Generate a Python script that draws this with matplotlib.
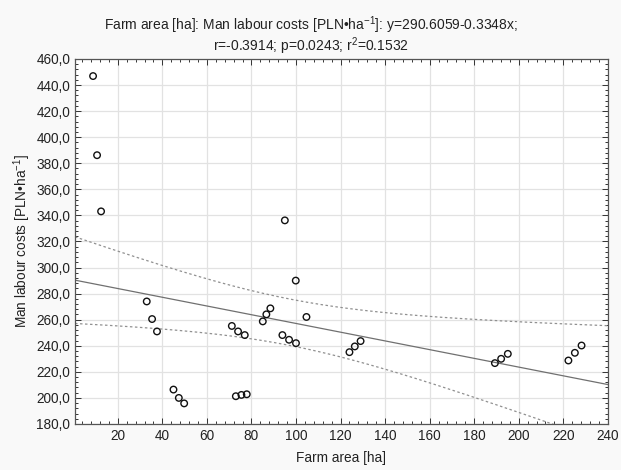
import numpy as np
import matplotlib
matplotlib.use("Agg")
import matplotlib.pyplot as plt
from matplotlib.ticker import MultipleLocator, FuncFormatter

plt.rcParams['font.family'] = ['Liberation Sans', 'DejaVu Sans']
plt.rcParams['mathtext.fontset'] = 'custom'
plt.rcParams['mathtext.rm'] = 'Liberation Sans'
plt.rcParams['mathtext.it'] = 'Liberation Sans'

# Farm area [ha]
farm_area = [8.9, 10.7, 12.5, 33.0, 35.4, 37.6, 45.0, 47.4, 49.8,
             71.2, 74.0, 77.0, 73.0, 75.5, 77.9, 85.1, 86.7, 88.5,
             93.9, 96.9, 100.0, 99.9, 95.0, 104.7, 124.0, 126.4, 129.0,
             189.3, 192.1, 195.1, 222.3, 225.2, 228.2]
# Man labour costs [PLN/ha]
labour_costs = [446.9, 386.2, 343.1, 274.0, 260.5, 251.0, 206.4, 200.0, 195.8,
                255.2, 251.0, 248.2, 201.3, 202.3, 202.8, 258.7, 264.1, 268.7,
                248.2, 244.6, 242.0, 290.0, 336.2, 262.1, 235.1, 239.5, 243.6,
                226.7, 230.0, 233.8, 228.7, 234.6, 240.2]

intercept = 290.6059
slope = -0.3348
r_value = -0.3914
p_value = 0.0243
r_squared = 0.1532

x = np.asarray(farm_area)
y = np.asarray(labour_costs)

fig = plt.figure(figsize=(6.21, 4.70), dpi=100, facecolor='#f9f9f9')
ax = fig.add_axes([0.1208, 0.0979, 0.858, 0.7766])
ax.set_facecolor('white')

# regression line with 95% confidence band
xx = np.linspace(0.8, 240, 300)
yy = intercept + slope * xx
n = len(x)
resid = y - (intercept + slope * x)
s = np.sqrt(np.sum(resid ** 2) / (n - 2))
sxx = np.sum((x - x.mean()) ** 2)
t_crit = 2.04
half = t_crit * s * np.sqrt(1.0 / n + (xx - x.mean()) ** 2 / sxx)

ax.plot(xx, yy, color='#707070', lw=0.9, zorder=2)
ax.plot(xx, yy + half, color='#909090', lw=0.9, ls=(0, (2, 2)), zorder=2)
ax.plot(xx, yy - half, color='#909090', lw=0.9, ls=(0, (2, 2)), zorder=2)

ax.scatter(x, y, s=22, facecolors='none', edgecolors='#111111', linewidths=1.0, zorder=3)

ax.set_xlim(0.8, 240)
ax.set_ylim(180, 460)
ax.xaxis.set_major_locator(MultipleLocator(20))
ax.xaxis.set_minor_locator(MultipleLocator(4))
ax.yaxis.set_major_locator(MultipleLocator(20))
ax.yaxis.set_minor_locator(MultipleLocator(4))
ax.xaxis.set_major_formatter(FuncFormatter(lambda v, p: f"{v:.0f}" if v >= 20 else ""))
ax.yaxis.set_major_formatter(FuncFormatter(lambda v, p: f"{v:.1f}".replace('.', ',')))

ax.grid(True, which='major', color='#e2e2e2', lw=0.9, zorder=0)
ax.set_axisbelow(True)
ax.tick_params(which='both', direction='in', top=True, right=True, labelsize=9.8, colors='#333333',
               labelcolor='#222222')
ax.tick_params(which='major', length=4, width=0.7)
ax.tick_params(which='minor', length=2.5, width=0.7)
for sp in ax.spines.values():
    sp.set_color('#555555')
    sp.set_linewidth(0.9)

ax.set_xlabel('Farm area [ha]', fontsize=9.8, color='#222222', labelpad=6)
ax.set_ylabel('Man labour costs [PLN\u2022ha$^{-1}$]', fontsize=9.8, color='#222222', labelpad=2)

title_1 = 'Farm area [ha]: Man labour costs [PLN\u2022ha$^{-1}$]: y=290.6059-0.3348x;'
title_2 = f'r={r_value:.4f}; p={p_value:.4f}; r$^{{2}}$={r_squared:.4f}'
fig.text(0.5, 1 - 22 / 470, title_1, ha='center', va='center_baseline', fontsize=10, color='#222222')
fig.text(0.5, 1 - 43 / 470, title_2, ha='center', va='center_baseline', fontsize=10, color='#222222')

fig.savefig('out.png', dpi=100, facecolor=fig.get_facecolor())
